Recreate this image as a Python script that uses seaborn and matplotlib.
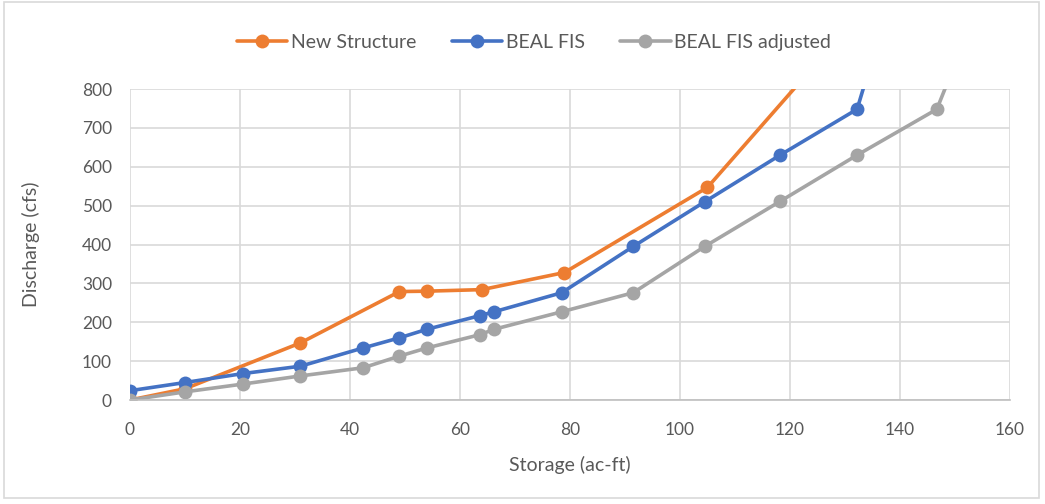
import pandas as pd
import seaborn as sns
import matplotlib.pyplot as plt
from matplotlib.patches import Rectangle

# values
new_storage = [0, 10, 31, 49, 54, 64, 79, 105, 130]
new_discharge = [0, 29, 147, 279, 280, 284, 328, 547, 950]

beal_storage = [0, 10, 20.5, 31, 42.4, 49, 54, 63.6, 66.2, 78.5, 91.5, 104.5, 118.2, 132.2, 135]
beal_discharge = [24, 45, 68, 87, 134, 160, 182, 217, 227, 276, 395, 510, 630, 748, 880]

adj_storage = [0, 10, 20.5, 31, 42.4, 49, 54, 63.6, 66.2, 78.5, 91.5, 104.5, 118.2, 132.2, 146.7, 150]
adj_discharge = [0, 21, 41, 62, 83, 113, 134, 168, 182, 227, 276, 395, 511, 630, 748, 865]

series_names = ['New Structure', 'BEAL FIS', 'BEAL FIS adjusted']
colors = ['#ED7D31', '#4472C4', '#A5A5A5']

frames = []
for name, xs, ys in zip(series_names,
                        [new_storage, beal_storage, adj_storage],
                        [new_discharge, beal_discharge, adj_discharge]):
    frames.append(pd.DataFrame({'storage': xs, 'discharge': ys, 'series': name}))
frame = pd.concat(frames, ignore_index=True)

sns.set_style('white')
plt.rcParams['font.family'] = ['Lato', 'DejaVu Sans']
text_color = '#595959'

fig = plt.figure(figsize=(10.45, 5.04), dpi=100)
ax = fig.add_axes([0.1244, 0.2063, 0.8421, 0.6171])

pal = dict(zip(series_names, colors))
sns.lineplot(data=frame, x='storage', y='discharge', hue='series', palette=pal,
             hue_order=series_names, marker='o', markersize=10, markeredgewidth=0,
             linewidth=2.6, sort=False, estimator=None, ax=ax, legend=False)

ax.set_xlim(0, 160)
ax.set_ylim(0, 800)
ax.set_xticks(range(0, 161, 20))
ax.set_yticks(range(0, 801, 100))
ax.grid(True, color='#d9d9d9', linewidth=1.2)
ax.set_axisbelow(True)
for side in ['top', 'right', 'left']:
    ax.spines[side].set_visible(False)
ax.spines['bottom'].set_color('#bfbfbf')
ax.spines['bottom'].set_linewidth(1.2)
ax.tick_params(axis='both', length=0, labelsize=12.5, colors=text_color)
ax.tick_params(axis='x', pad=16)
ax.tick_params(axis='y', pad=13)
ax.set_xlabel('Storage (ac-ft)', fontsize=14, color=text_color, labelpad=13)
ax.set_ylabel('Discharge (cfs)', fontsize=14, color=text_color, labelpad=30)

handles = [plt.Line2D([], [], color=c, marker='o', markersize=10, markeredgewidth=0,
                      linewidth=2.6) for c in colors]
fig.legend(handles, series_names, loc='center', bbox_to_anchor=(0.511, 0.916), ncol=3,
           frameon=False, fontsize=14, labelcolor=text_color, handlelength=2.6,
           columnspacing=1.8, handletextpad=0.2)

# chart area border
fig.patches.append(Rectangle((0.004, 0.012), 0.99, 0.985, transform=fig.transFigure,
                             fill=False, edgecolor='#d9d9d9', linewidth=1.2))

plt.savefig('out.png', dpi=100)
